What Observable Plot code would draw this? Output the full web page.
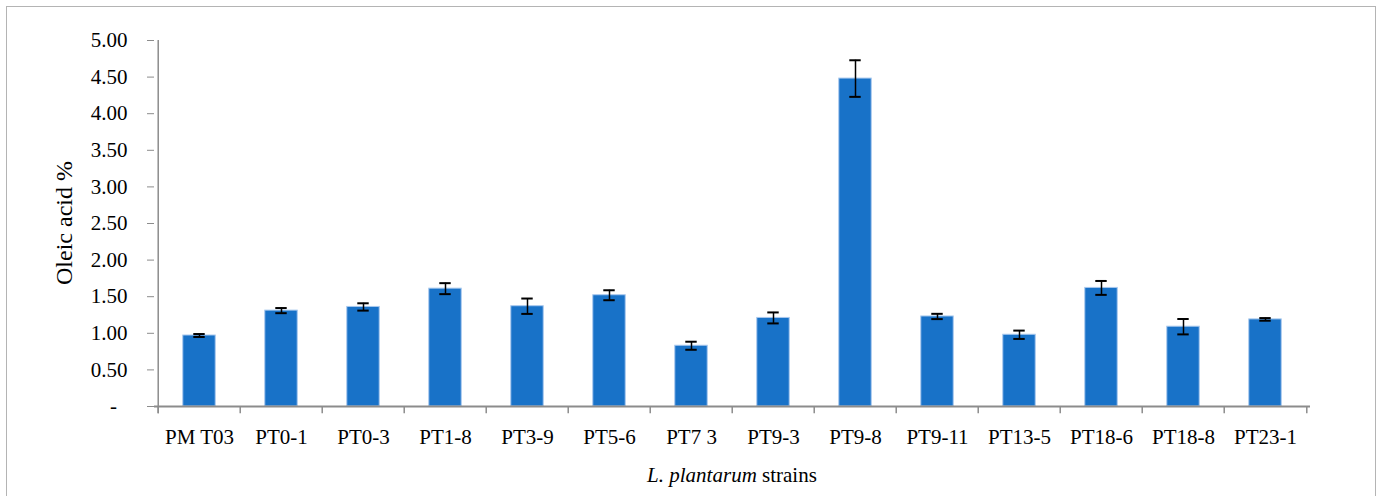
<!DOCTYPE html>
<html><head><meta charset="utf-8">
<script src="https://cdn.jsdelivr.net/npm/d3@7"></script>
<script src="https://cdn.jsdelivr.net/npm/@observablehq/plot@0.6"></script>
<style>
body{margin:0;background:#fff;}
#wrap{position:relative;width:1382px;height:496px;overflow:hidden;background:#fff;}
#border{position:absolute;left:6px;top:6px;width:1370px;height:600px;border:1.5px solid #b4b4b4;box-sizing:border-box;}
#chart{position:absolute;left:0;top:0;}
#chart svg, #chart svg text{font-family:"Liberation Serif","Times New Roman",Times,"DejaVu Serif",serif !important;}
</style></head><body><div id="wrap"><div id="border"></div><div id="chart"></div></div>
<script>
const strains = ["PM T03","PT0-1","PT0-3","PT1-8","PT3-9","PT5-6","PT7 3","PT9-3","PT9-8","PT9-11","PT13-5","PT18-6","PT18-8","PT23-1"];
const oleic = [0.97,1.31,1.36,1.61,1.37,1.52,0.83,1.21,4.48,1.23,0.98,1.62,1.09,1.19];
const sd = [0.02,0.035,0.05,0.075,0.105,0.068,0.055,0.075,0.25,0.036,0.057,0.095,0.105,0.018];
const yTicks = [0,0.5,1,1.5,2,2.5,3,3.5,4,4.5,5];

const data = strains.map((s,i)=>({strain:s, value:oleic[i], lo:oleic[i]-sd[i], hi:oleic[i]+sd[i]}));
const W=1382,H=496, mL=154, mR=72, mT=40, mB=90;
const band = (W-mL-mR)/strains.length;
const half = band/2;
const axisColor = "#8c8c8c";
const serif = '"Liberation Serif","Times New Roman",Times,"DejaVu Serif",serif';

const chart = Plot.plot({
  width:W, height:H, marginLeft:mL, marginRight:mR, marginTop:mT, marginBottom:mB,
  style:{fontFamily:serif, fontSize:"21px", color:"#000", background:"transparent"},
  x:{domain:strains, padding:0, axis:null},
  y:{domain:[0,5], axis:null},
  marks:[
    Plot.barY(data,{x:"strain", y:"value", fill:"#1872c8", stroke:"#a9c9ee", strokeWidth:1, insetLeft:band*0.3, insetRight:band*0.3}),
    Plot.ruleY([0],{stroke:axisColor, strokeWidth:2}),
    Plot.ruleX(strains,{x:d=>d, y1:-0.1, y2:0, dx:-half, stroke:axisColor, strokeWidth:1.5}),
    Plot.ruleX([strains[strains.length-1]],{x:d=>d, y1:-0.1, y2:0, dx:half, stroke:axisColor, strokeWidth:1.5}),
    Plot.ruleX([strains[0]],{x:d=>d, y1:-0.1, y2:5, dx:-half, stroke:axisColor, strokeWidth:1.5}),
    Plot.axisY({ticks:yTicks, tickSize:7, tickPadding:20, stroke:axisColor, fill:"#000", label:null, fontSize:21,
      tickFormat:d=> d===0 ? "-\u00a0\u00a0" : d.toFixed(2)}),
    Plot.axisX({tickSize:0, tickPadding:23, fill:"#000", label:null, fontSize:21}),
    Plot.ruleX(data,{x:"strain", y1:"lo", y2:"hi", stroke:"#000", strokeWidth:1.5}),
    Plot.tickY(data,{x:"strain", y:"lo", stroke:"#000", strokeWidth:2, insetLeft:half-6, insetRight:half-6}),
    Plot.tickY(data,{x:"strain", y:"hi", stroke:"#000", strokeWidth:2, insetLeft:half-6, insetRight:half-6})
  ]
});

const svg = d3.select(chart);
const xl = svg.append("text")
  .attr("x", mL + (W-mL-mR)/2).attr("y", 482)
  .attr("text-anchor","middle")
  .attr("font-size", 21).attr("fill","#000");
xl.append("tspan").attr("font-style","italic").text("L. plantarum");
xl.append("tspan").text(" strains");

svg.append("text")
  .attr("transform", `translate(72,${mT + (H-mT-mB)/2}) rotate(-90)`)
  .attr("text-anchor","middle")
  .attr("font-size", 24).attr("fill","#000")
  .text("Oleic acid %");

document.getElementById("chart").appendChild(chart);
</script>
</body></html>
